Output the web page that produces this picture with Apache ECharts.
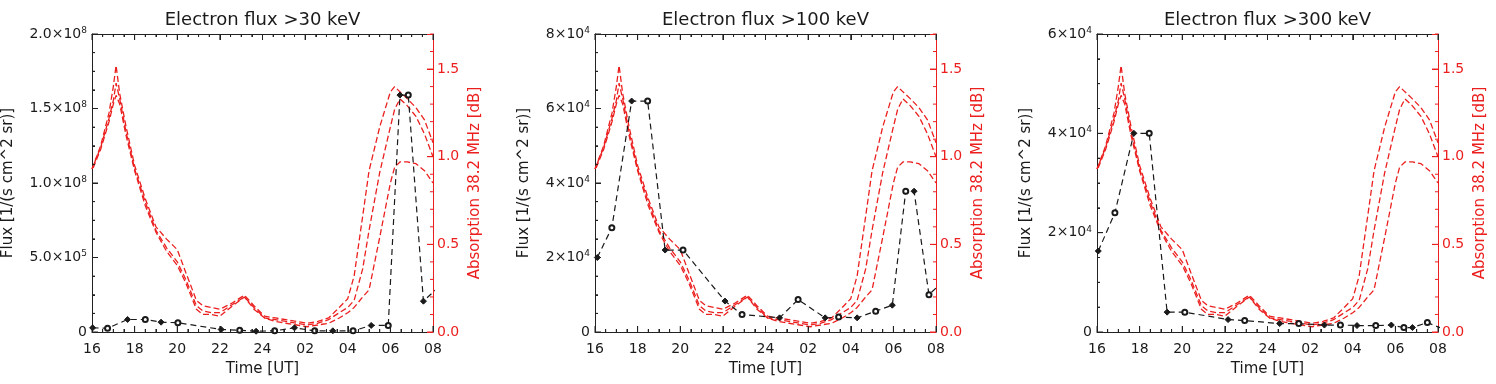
<!DOCTYPE html>
<html>
<head>
<meta charset="utf-8">
<title>Electron flux and riometer absorption</title>
<script src="https://cdn.jsdelivr.net/npm/echarts@6/dist/echarts.min.js"></script>
<style>
html, body { margin: 0; padding: 0; background: #fff; }
#chart { width: 1496px; height: 384px; }
</style>
</head>
<body>
<div id="chart"></div>
<script>
var chart = echarts.init(document.getElementById('chart'));

var FONT = 'DejaVu Sans';
var RED = '#ec1f1f';
var INK = '#1a1a1a';
var AXIS = '#222';

// x axis: hours after 16 UT, labels every 2 h
var hourTicks = ['16', '18', '20', '22', '24', '02', '04', '06', '08'];

// absorption 38.2 MHz [dB], three curves (same in every panel)
var absTime = [0, 0.4, 0.8, 1.0, 1.13, 1.3, 1.6, 2.0, 2.5, 3.0, 3.5, 4.0, 4.4, 4.9, 5.2, 5.6, 6.0, 6.5, 7.15, 7.6,
    8.1, 8.6, 9.1, 9.6, 10.1, 10.6, 11.1, 11.6, 12.0, 12.3, 12.7, 13.0, 13.5, 14.0, 14.2, 14.45, 14.8, 15.2, 15.6, 16.0];
var absA = [0.93, 1.06, 1.25, 1.40, 1.52, 1.36, 1.17, 0.95, 0.76, 0.60, 0.53, 0.47, 0.34, 0.18, 0.15, 0.14, 0.13, 0.16, 0.21, 0.15,
    0.09, 0.08, 0.07, 0.06, 0.05, 0.06, 0.08, 0.14, 0.19, 0.32, 0.66, 0.92, 1.17, 1.37, 1.40, 1.37, 1.33, 1.28, 1.21, 1.08];
var absB = [0.93, 1.05, 1.22, 1.32, 1.42, 1.33, 1.14, 0.93, 0.74, 0.58, 0.48, 0.40, 0.30, 0.15, 0.12, 0.11, 0.11, 0.15, 0.20, 0.14,
    0.08, 0.07, 0.06, 0.05, 0.04, 0.05, 0.07, 0.11, 0.14, 0.18, 0.36, 0.58, 0.91, 1.17, 1.27, 1.33, 1.29, 1.23, 1.13, 1.00];
var absC = [0.92, 1.04, 1.20, 1.30, 1.35, 1.30, 1.12, 0.92, 0.72, 0.57, 0.46, 0.38, 0.28, 0.13, 0.10, 0.10, 0.09, 0.14, 0.20, 0.13,
    0.08, 0.06, 0.05, 0.04, 0.03, 0.04, 0.05, 0.08, 0.11, 0.14, 0.20, 0.24, 0.54, 0.85, 0.94, 0.97, 0.97, 0.96, 0.92, 0.85];

// electron flux >30 keV
var flux30Time = [0.03, 0.73, 1.67, 2.5, 3.24, 4.03, 6.06, 6.93, 7.7, 8.57, 9.5, 10.45, 11.3, 12.25, 13.1, 13.9, 14.45, 14.84, 15.55, 16.4];
var flux30 = [2.8e6, 2.5e6, 8.4e6, 8.4e6, 6.6e6, 6.2e6, 1.7e6, 1.1e6, 0.5e6, 0.8e6, 2.8e6, 0.8e6, 0.8e6, 0.8e6, 4.4e6, 4.4e6, 1.59e8, 1.59e8, 2.07e7, 3.2e7];
var flux30TickText = ['0', '5.0×10', '1.0×10', '1.5×10', '2.0×10'];
var flux30TickExp = ['', '5', '8', '8', '8'];

// electron flux >100 keV
var flux100Time = [0.11, 0.79, 1.72, 2.47, 3.29, 4.13, 6.1, 6.9, 8.66, 9.53, 10.8, 11.43, 12.3, 13.17, 13.95, 14.58, 14.97, 15.67, 16.4];
var flux100 = [2.0e4, 2.8e4, 6.2e4, 6.2e4, 2.2e4, 2.2e4, 0.83e4, 0.47e4, 0.38e4, 0.87e4, 0.38e4, 0.4e4, 0.38e4, 0.56e4, 0.72e4, 3.78e4, 3.78e4, 1.0e4, 1.4e4];
var flux100TickText = ['0', '2×10', '4×10', '6×10', '8×10'];
var flux100TickExp = ['', '4', '4', '4', '4'];

// electron flux >300 keV
var flux300Time = [0.06, 0.84, 1.73, 2.45, 3.29, 4.12, 6.15, 6.93, 8.57, 9.47, 10.67, 11.42, 12.2, 13.08, 13.81, 14.4, 14.8, 15.5, 16.3];
var flux300 = [1.63e4, 2.4e4, 4.0e4, 4.0e4, 0.4e4, 0.4e4, 0.25e4, 0.23e4, 0.17e4, 0.17e4, 0.14e4, 0.14e4, 0.13e4, 0.13e4, 0.14e4, 0.09e4, 0.09e4, 0.19e4, 0.05e4];
var flux300TickText = ['0', '2×10', '4×10', '6×10'];
var flux300TickExp = ['', '4', '4', '4'];

var absTickText = ['0.0', '0.5', '1.0', '1.5'];

var panels = [
    { title: 'Electron flux >30 keV', time: flux30Time, flux: flux30, max: 2e8, step: 5e7,
      tickText: flux30TickText, tickExp: flux30TickExp, left: 92, nameGap: 76 },
    { title: 'Electron flux >100 keV', time: flux100Time, flux: flux100, max: 8e4, step: 2e4,
      tickText: flux100TickText, tickExp: flux100TickExp, left: 595, nameGap: 63 },
    { title: 'Electron flux >300 keV', time: flux300Time, flux: flux300, max: 6e4, step: 2e4,
      tickText: flux300TickText, tickExp: flux300TickExp, left: 1097, nameGap: 63 }
];

var plotW = 341, plotTop = 34, plotH = 298;

function pairs(xs, ys) {
    return xs.map(function (x, i) { return [x, ys[i]]; });
}

function fluxPoints(xs, ys) {
    return xs.map(function (x, i) {
        return { value: [x, ys[i]], symbol: i % 2 ? 'emptyCircle' : 'diamond', symbolSize: i % 2 ? 5 : 6 };
    });
}

function timeAxis(k, extra) {
    return Object.assign({
        gridIndex: k, type: 'value', min: 0, max: 16, interval: 2,
        splitLine: { show: false },
        axisLine: { onZero: false, lineStyle: { color: AXIS } },
        axisTick: { show: true, inside: true, length: 6, lineStyle: { color: AXIS } },
        minorTick: { show: true, splitNumber: 4, length: 3, lineStyle: { color: AXIS } }
    }, extra);
}

var grid = [], xAxis = [], yAxis = [], title = [], series = [];

panels.forEach(function (p, k) {
    grid.push({ left: p.left, top: plotTop, width: plotW, height: plotH });
    title.push({
        text: p.title, left: p.left + plotW / 2, top: 11, textAlign: 'center', padding: 0,
        textStyle: { fontFamily: FONT, fontSize: 18, fontWeight: 'normal', color: INK }
    });

    xAxis.push(timeAxis(k, {
        position: 'bottom',
        name: 'Time [UT]', nameLocation: 'middle', nameGap: 30,
        nameTextStyle: { fontFamily: FONT, fontSize: 15, color: INK },
        axisLabel: {
            margin: 10, fontFamily: FONT, fontSize: 14, color: INK,
            formatter: function (v) { return hourTicks[Math.round(v / 2)]; }
        }
    }));
    xAxis.push(timeAxis(k, { position: 'top', axisLabel: { show: false } }));

    // left: flux
    yAxis.push({
        gridIndex: k, type: 'value', position: 'left', min: 0, max: p.max, interval: p.step,
        name: 'Flux [1/(s cm^2 sr)]', nameLocation: 'middle', nameRotate: 90, nameGap: p.nameGap,
        nameTextStyle: { fontFamily: FONT, fontSize: 15, color: INK },
        splitLine: { show: false },
        axisLine: { show: true, onZero: false, lineStyle: { color: AXIS } },
        axisTick: { show: true, inside: true, length: 6, lineStyle: { color: AXIS } },
        minorTick: { show: true, splitNumber: 4, length: 3, lineStyle: { color: AXIS } },
        axisLabel: {
            margin: 5,
            formatter: function (v) {
                var i = Math.round(v / p.step);
                if (p.tickExp[i]) return '{m|' + p.tickText[i] + '}{e|' + p.tickExp[i] + '}';
                return '{m|' + p.tickText[i] + '}';
            },
            rich: {
                m: { fontFamily: FONT, fontSize: 14, color: INK, lineHeight: 16 },
                e: { fontFamily: FONT, fontSize: 9, color: INK, verticalAlign: 'top', lineHeight: 9 }
            }
        }
    });
    // right: absorption
    yAxis.push({
        gridIndex: k, type: 'value', position: 'right', min: 0, max: 1.7, interval: 0.5,
        name: 'Absorption 38.2 MHz [dB]', nameLocation: 'middle', nameRotate: 90, nameGap: 35,
        nameTextStyle: { fontFamily: FONT, fontSize: 15, color: RED },
        splitLine: { show: false },
        axisLine: { show: true, onZero: false, lineStyle: { color: RED } },
        axisTick: { show: true, inside: true, length: 6, lineStyle: { color: RED } },
        axisLabel: {
            margin: 4, fontFamily: FONT, fontSize: 14, color: RED,
            formatter: function (v) {
                var i = Math.round(v / 0.5);
                return Math.abs(v - i * 0.5) < 1e-6 ? absTickText[i] : '';
            }
        }
    });

    [absA, absB, absC].forEach(function (curve, j) {
        series.push({
            type: 'line', xAxisIndex: 2 * k, yAxisIndex: 2 * k + 1,
            data: pairs(absTime, curve), showSymbol: false, silent: true, z: 2,
            lineStyle: { color: RED, width: 1.3, type: [6, 3], dashOffset: j * 3 }
        });
    });

    series.push({
        type: 'line', xAxisIndex: 2 * k, yAxisIndex: 2 * k,
        data: fluxPoints(p.time, p.flux), z: 3, clip: true,
        lineStyle: { color: INK, width: 1.2, type: [6, 4] },
        itemStyle: { color: INK, borderColor: INK, borderWidth: 1 }
    });
});

chart.setOption({
    backgroundColor: '#fff',
    animation: false,
    title: title,
    grid: grid,
    xAxis: xAxis,
    yAxis: yAxis,
    series: series
});

// inward ticks on all four sides, placed through the axes' own scales
function tick(x1, y1, x2, y2, color) {
    return { type: 'line', silent: true, z: 10,
        shape: { x1: x1, y1: y1, x2: x2, y2: y2 }, style: { stroke: color, lineWidth: 1 } };
}

var tickEls = [];
panels.forEach(function (p, k) {
    var xi = 2 * k, yl = 2 * k, yr = 2 * k + 1;
    var xL = chart.convertToPixel({ xAxisIndex: xi }, 0);
    var xR = chart.convertToPixel({ xAxisIndex: xi }, 16);
    var yB = chart.convertToPixel({ yAxisIndex: yl }, 0);
    var yT = chart.convertToPixel({ yAxisIndex: yl }, p.max);
    var i, px, py, len;
    for (i = 0; i <= 32; i++) {
        px = chart.convertToPixel({ xAxisIndex: xi }, i / 2);
        len = i % 4 === 0 ? 6 : 3;
        tickEls.push(tick(px, yB, px, yB - len, AXIS));
        tickEls.push(tick(px, yT, px, yT + len, AXIS));
    }
    for (i = 0; i <= Math.round(p.max / p.step) * 4; i++) {
        py = chart.convertToPixel({ yAxisIndex: yl }, i * p.step / 4);
        len = i % 4 === 0 ? 6 : 3;
        tickEls.push(tick(xL, py, xL + len, py, AXIS));
    }
    for (i = 0; i <= 17; i++) {
        py = chart.convertToPixel({ yAxisIndex: yr }, i / 10);
        len = i % 5 === 0 ? 6 : 3;
        tickEls.push(tick(xR, py, xR - len, py, RED));
    }
});

chart.setOption({ graphic: { elements: tickEls } });
</script>
</body>
</html>
